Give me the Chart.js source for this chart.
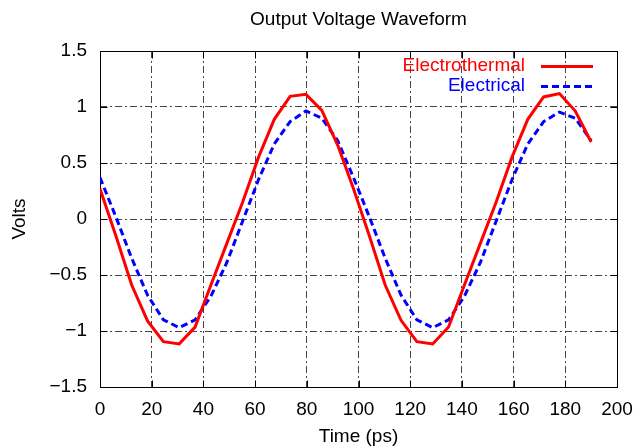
<!DOCTYPE html>
<html>
<head>
<meta charset="utf-8">
<script src="https://cdn.jsdelivr.net/npm/chart.js@4/dist/chart.umd.min.js"></script>
<style>
  html, body { margin: 0; padding: 0; background: #fff; }
  #wrap { width: 634px; height: 446px; }
</style>
</head>
<body>
<div id="wrap"><canvas id="waveform" width="634" height="446"></canvas></div>
<script>
// Sample times (ps)
const timePs = [
  0, 6.13, 12.26, 18.39, 24.52, 30.65, 36.77, 42.9, 49.03, 55.16, 61.29,
  67.42, 73.55, 79.68, 85.81, 91.94, 98.06, 104.19, 110.32, 116.45, 122.58,
  128.71, 134.84, 140.97, 147.1, 153.23, 159.35, 165.48, 171.61, 177.74,
  183.87, 190
];
// Volts
const electrothermal = [
  0.27, -0.15, -0.59, -0.91, -1.095, -1.115, -0.965, -0.59, -0.22, 0.15,
  0.55, 0.89, 1.095, 1.113, 0.97, 0.66,
  0.27, -0.15, -0.59, -0.905, -1.095, -1.116, -0.964, -0.59, -0.22, 0.15,
  0.55, 0.89, 1.09, 1.12, 0.964, 0.687
];
const electrical = [
  0.37, 0.02, -0.35, -0.68, -0.9, -0.97, -0.9, -0.69, -0.39, -0.02,
  0.35, 0.67, 0.87, 0.965, 0.9, 0.7,
  0.37, 0.02, -0.35, -0.68, -0.9, -0.97, -0.9, -0.69, -0.39, -0.02,
  0.35, 0.67, 0.87, 0.955, 0.9, 0.7
];
const xTicks = [0, 20, 40, 60, 80, 100, 120, 140, 160, 180, 200];
const yTicks = [-1.5, -1, -0.5, 0, 0.5, 1, 1.5];

const chartTitle = "Output Voltage Waveform";
const FONT = '"Liberation Sans", Arial, Helvetica, sans-serif';

function toPoints(values) {
  return values.map((v, i) => ({ x: timePs[i], y: v }));
}

// border box, inward tics, title and legend (gnuplot style)
const gnuplotFrame = {
  id: "gnuplotFrame",
  beforeDatasetsDraw(chart) {
    const { ctx, chartArea: a, scales } = chart;
    const L = Math.round(a.left) + 0.5;
    const R = Math.round(a.right) + 0.5;
    const T = Math.round(a.top) + 0.5;
    const B = Math.round(a.bottom) + 0.5;
    ctx.save();
    ctx.strokeStyle = "#000";
    ctx.lineWidth = 1;
    ctx.setLineDash([]);
    ctx.strokeRect(L, T, R - L, B - T);
    ctx.beginPath();
    xTicks.forEach((v) => {
      const px = Math.round(scales.x.getPixelForValue(v)) + 0.5;
      ctx.moveTo(px, B); ctx.lineTo(px, B - 7);
      ctx.moveTo(px, T); ctx.lineTo(px, T + 7);
    });
    yTicks.forEach((v) => {
      const py = Math.round(scales.y.getPixelForValue(v)) + 0.5;
      ctx.moveTo(L, py); ctx.lineTo(L + 7, py);
      ctx.moveTo(R, py); ctx.lineTo(R - 7, py);
    });
    ctx.stroke();
    ctx.restore();
  },
  afterDraw(chart) {
    const { ctx, chartArea: a } = chart;
    ctx.save();
    ctx.font = "19px " + FONT;
    ctx.textBaseline = "middle";
    ctx.textAlign = "center";
    ctx.fillStyle = "#000";
    ctx.fillText(chartTitle, (a.left + a.right) / 2, 20);

    ctx.textAlign = "right";
    chart.data.datasets.forEach((ds, i) => {
      const y = 66 + i * 20;
      ctx.fillStyle = ds.borderColor;
      ctx.fillText(ds.label, 525, y);
      ctx.strokeStyle = ds.borderColor;
      ctx.lineWidth = ds.borderWidth;
      ctx.setLineDash(ds.borderDash || []);
      ctx.beginPath();
      ctx.moveTo(541, y + 0.5);
      ctx.lineTo(593, y + 0.5);
      ctx.stroke();
    });
    ctx.restore();
  }
};

const minus = (v) => String(v).replace("-", "\u2212");

new Chart(document.getElementById("waveform"), {
  type: "line",
  data: {
    datasets: [
      {
        label: "Electrothermal",
        data: toPoints(electrothermal),
        borderColor: "#ff0000",
        borderWidth: 3,
        pointRadius: 0,
        tension: 0,
        fill: false
      },
      {
        label: "Electrical",
        data: toPoints(electrical),
        borderColor: "#0000ff",
        borderWidth: 3,
        borderDash: [7, 4],
        pointRadius: 0,
        tension: 0,
        fill: false
      }
    ]
  },
  options: {
    responsive: false,
    animation: false,
    devicePixelRatio: 1,
    layout: { padding: { top: 51, right: 0, left: 0, bottom: 0 } },
    plugins: {
      legend: { display: false },
      title: { display: false },
      tooltip: { enabled: false }
    },
    scales: {
      x: {
        type: "linear",
        min: 0,
        max: 200,
        afterBuildTicks: (s) => { s.ticks = xTicks.map((v) => ({ value: v })); },
        afterFit: (s) => { s.height = 59; s.paddingRight = 17; },
        ticks: {
          color: "#000",
          font: { family: FONT, size: 19 },
          padding: 11,
          maxRotation: 0,
          callback: minus
        },
        grid: { color: "#444", lineWidth: 1, drawTicks: false },
        border: { display: false, dash: [7, 3, 2, 3] },
        title: {
          display: true,
          text: "Time (ps)",
          color: "#000",
          font: { family: FONT, size: 19 },
          padding: { top: 0, bottom: -2 }
        }
      },
      y: {
        min: -1.5,
        max: 1.5,
        afterBuildTicks: (s) => { s.ticks = yTicks.map((v) => ({ value: v })); },
        afterFit: (s) => { s.width = 100; },
        ticks: {
          color: "#000",
          font: { family: FONT, size: 19 },
          padding: 13,
          callback: minus
        },
        grid: { color: "#444", lineWidth: 1, drawTicks: false },
        border: { display: false, dash: [7, 3, 2, 3] },
        title: {
          display: true,
          text: "Volts",
          color: "#000",
          font: { family: FONT, size: 19 },
          padding: { top: 8, bottom: 0 }
        }
      }
    }
  },
  plugins: [gnuplotFrame]
});
</script>
</body>
</html>
